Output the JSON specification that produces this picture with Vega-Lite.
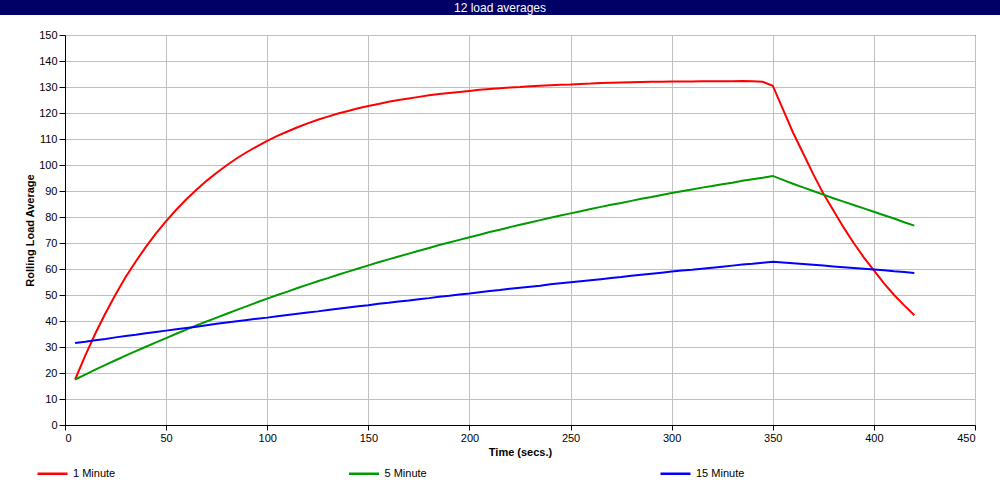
{
  "$schema": "https://vega.github.io/schema/vega-lite/v6.json",
  "padding": 0,
  "background": "white",
  "spacing": 13,
  "config": {
    "font": "Liberation Sans",
    "view": {"stroke": "black", "strokeWidth": 1}
  },
  "resolve": {"legend": {"color": "independent"}},
  "vconcat": [
    {
      "width": 1000,
      "height": 15,
      "view": {"fill": "#000066", "stroke": null},
      "data": {"values": [{"label": "12 load averages"}]},
      "mark": {"type": "text", "color": "white", "fontSize": 12, "align": "center", "baseline": "middle"},
      "encoding": {"text": {"field": "label", "type": "nominal"}}
    },
    {
      "resolve": {"legend": {"color": "independent"}},
      "spacing": 0,
      "hconcat": [
        {
          "width": 1,
          "height": 390,
          "view": {"stroke": null},
          "data": {"values": []},
          "mark": "point"
        },
        {
          "width": 910,
          "height": 390,
          "data": {"values": [
            {"t":5,"m1":17.5,"m5":17.5,"m15":31.5},
            {"t":10,"m1":26.7,"m5":19.4,"m15":32.0},
            {"t":15,"m1":35.2,"m5":21.3,"m15":32.6},
            {"t":20,"m1":43.0,"m5":23.1,"m15":33.1},
            {"t":25,"m1":50.2,"m5":24.9,"m15":33.7},
            {"t":30,"m1":56.9,"m5":26.7,"m15":34.2},
            {"t":35,"m1":62.9,"m5":28.4,"m15":34.7},
            {"t":40,"m1":68.5,"m5":30.1,"m15":35.3},
            {"t":45,"m1":73.7,"m5":31.8,"m15":35.8},
            {"t":50,"m1":78.4,"m5":33.4,"m15":36.3},
            {"t":55,"m1":82.8,"m5":35.1,"m15":36.8},
            {"t":60,"m1":86.8,"m5":36.7,"m15":37.3},
            {"t":65,"m1":90.5,"m5":38.3,"m15":37.8},
            {"t":70,"m1":93.9,"m5":39.8,"m15":38.4},
            {"t":75,"m1":97.0,"m5":41.3,"m15":38.9},
            {"t":80,"m1":99.9,"m5":42.8,"m15":39.4},
            {"t":85,"m1":102.6,"m5":44.3,"m15":39.9},
            {"t":90,"m1":105.0,"m5":45.7,"m15":40.4},
            {"t":95,"m1":107.2,"m5":47.2,"m15":40.9},
            {"t":100,"m1":109.3,"m5":48.6,"m15":41.3},
            {"t":105,"m1":111.2,"m5":50.0,"m15":41.8},
            {"t":110,"m1":112.9,"m5":51.3,"m15":42.3},
            {"t":115,"m1":114.5,"m5":52.7,"m15":42.8},
            {"t":120,"m1":116.0,"m5":54.0,"m15":43.3},
            {"t":125,"m1":117.4,"m5":55.3,"m15":43.7},
            {"t":130,"m1":118.6,"m5":56.5,"m15":44.2},
            {"t":135,"m1":119.8,"m5":57.8,"m15":44.7},
            {"t":140,"m1":120.8,"m5":59.0,"m15":45.2},
            {"t":145,"m1":121.8,"m5":60.2,"m15":45.7},
            {"t":150,"m1":122.7,"m5":61.4,"m15":46.1},
            {"t":155,"m1":123.5,"m5":62.6,"m15":46.6},
            {"t":160,"m1":124.3,"m5":63.7,"m15":47.0},
            {"t":165,"m1":125.0,"m5":64.8,"m15":47.5},
            {"t":170,"m1":125.6,"m5":65.9,"m15":47.9},
            {"t":175,"m1":126.2,"m5":67.0,"m15":48.4},
            {"t":180,"m1":126.8,"m5":68.1,"m15":48.8},
            {"t":185,"m1":127.3,"m5":69.2,"m15":49.3},
            {"t":190,"m1":127.7,"m5":70.2,"m15":49.7},
            {"t":195,"m1":128.1,"m5":71.2,"m15":50.2},
            {"t":200,"m1":128.5,"m5":72.2,"m15":50.6},
            {"t":205,"m1":128.9,"m5":73.2,"m15":51.1},
            {"t":210,"m1":129.2,"m5":74.2,"m15":51.5},
            {"t":215,"m1":129.5,"m5":75.1,"m15":51.9},
            {"t":220,"m1":129.8,"m5":76.1,"m15":52.4},
            {"t":225,"m1":130.0,"m5":77.0,"m15":52.8},
            {"t":230,"m1":130.3,"m5":77.9,"m15":53.2},
            {"t":235,"m1":130.5,"m5":78.8,"m15":53.6},
            {"t":240,"m1":130.7,"m5":79.7,"m15":54.1},
            {"t":245,"m1":130.9,"m5":80.6,"m15":54.5},
            {"t":250,"m1":131.0,"m5":81.4,"m15":54.9},
            {"t":255,"m1":131.2,"m5":82.2,"m15":55.3},
            {"t":260,"m1":131.3,"m5":83.1,"m15":55.7},
            {"t":265,"m1":131.5,"m5":83.9,"m15":56.1},
            {"t":270,"m1":131.6,"m5":84.7,"m15":56.5},
            {"t":275,"m1":131.7,"m5":85.4,"m15":56.9},
            {"t":280,"m1":131.8,"m5":86.2,"m15":57.4},
            {"t":285,"m1":131.9,"m5":87.0,"m15":57.8},
            {"t":290,"m1":132.0,"m5":87.7,"m15":58.2},
            {"t":295,"m1":132.0,"m5":88.5,"m15":58.6},
            {"t":300,"m1":132.1,"m5":89.2,"m15":59.0},
            {"t":305,"m1":132.1,"m5":89.9,"m15":59.4},
            {"t":310,"m1":132.1,"m5":90.6,"m15":59.7},
            {"t":315,"m1":132.2,"m5":91.3,"m15":60.1},
            {"t":320,"m1":132.2,"m5":91.9,"m15":60.5},
            {"t":325,"m1":132.2,"m5":92.6,"m15":60.9},
            {"t":330,"m1":132.2,"m5":93.2,"m15":61.3},
            {"t":335,"m1":132.3,"m5":93.9,"m15":61.7},
            {"t":340,"m1":132.2,"m5":94.5,"m15":62.0},
            {"t":345,"m1":132.0,"m5":95.1,"m15":62.4},
            {"t":350,"m1":130.5,"m5":95.8,"m15":62.8},
            {"t":355,"m1":121.5,"m5":94.3,"m15":62.5},
            {"t":360,"m1":112.5,"m5":92.8,"m15":62.2},
            {"t":365,"m1":104.5,"m5":91.4,"m15":61.9},
            {"t":370,"m1":96.5,"m5":90.0,"m15":61.6},
            {"t":375,"m1":89.0,"m5":88.6,"m15":61.3},
            {"t":380,"m1":82.5,"m5":87.2,"m15":61.0},
            {"t":385,"m1":76.0,"m5":85.9,"m15":60.7},
            {"t":390,"m1":70.0,"m5":84.6,"m15":60.4},
            {"t":395,"m1":64.5,"m5":83.3,"m15":60.1},
            {"t":400,"m1":59.5,"m5":82.0,"m15":59.8},
            {"t":405,"m1":54.5,"m5":80.7,"m15":59.5},
            {"t":410,"m1":50.0,"m5":79.4,"m15":59.1},
            {"t":415,"m1":46.0,"m5":78.0,"m15":58.8},
            {"t":420,"m1":42.2,"m5":76.7,"m15":58.5}
          ]},
          "transform": [{"fold": ["m1", "m5", "m15"], "as": ["series", "value"]}],
          "mark": {"type": "line", "strokeWidth": 2},
          "encoding": {
            "x": {
              "field": "t", "type": "quantitative",
              "scale": {"domain": [0, 450], "nice": false, "zero": false},
              "axis": {
                "title": "Time (secs.)",
                "values": [0, 50, 100, 150, 200, 250, 300, 350, 400, 450],
                "labelFontSize": 11, "labelColor": "black", "labelPadding": 2,
                "tickColor": "black", "tickSize": 5, "domainColor": "black",
                "gridColor": "#c0c0c0", "gridOpacity": 1,
                "titleFontSize": 11, "titleFontWeight": "bold", "titleColor": "black", "titlePadding": 3
              }
            },
            "y": {
              "field": "value", "type": "quantitative",
              "scale": {"domain": [0, 150], "nice": false},
              "axis": {
                "title": "Rolling Load Average",
                "values": [0, 10, 20, 30, 40, 50, 60, 70, 80, 90, 100, 110, 120, 130, 140, 150],
                "labelFontSize": 11, "labelColor": "black", "labelPadding": 2,
                "tickColor": "black", "tickSize": 6, "domainColor": "black",
                "gridColor": "#c0c0c0", "gridOpacity": 1,
                "minExtent": 63.5, "maxExtent": 63.5,
                "titleFontSize": 11, "titleFontWeight": "bold", "titleColor": "black",
                "titleX": -35, "titleY": 195, "titleAngle": -90, "titleAlign": "center", "titleBaseline": "middle"
              }
            },
            "color": {
              "field": "series", "type": "nominal",
              "scale": {"domain": ["m1", "m5", "m15"], "range": ["#ff0000", "#009900", "#0000ff"]},
              "legend": {
                "title": null,
                "orient": "none",
                "legendX": -29,
                "legendY": 422,
                "direction": "horizontal",
                "columns": 3,
                "columnPadding": 227.5,
                "padding": 0,
                "labelOffset": 4,
                "symbolType": "stroke",
                "symbolSize": 900,
                "symbolStrokeWidth": 2.5,
                "labelFontSize": 11,
                "labelColor": "black",
                "labelExpr": "datum.label == 'm1' ? '1 Minute' : datum.label == 'm5' ? '5 Minute' : '15 Minute'"
              }
            }
          }
        }
      ]
    }
  ]
}
